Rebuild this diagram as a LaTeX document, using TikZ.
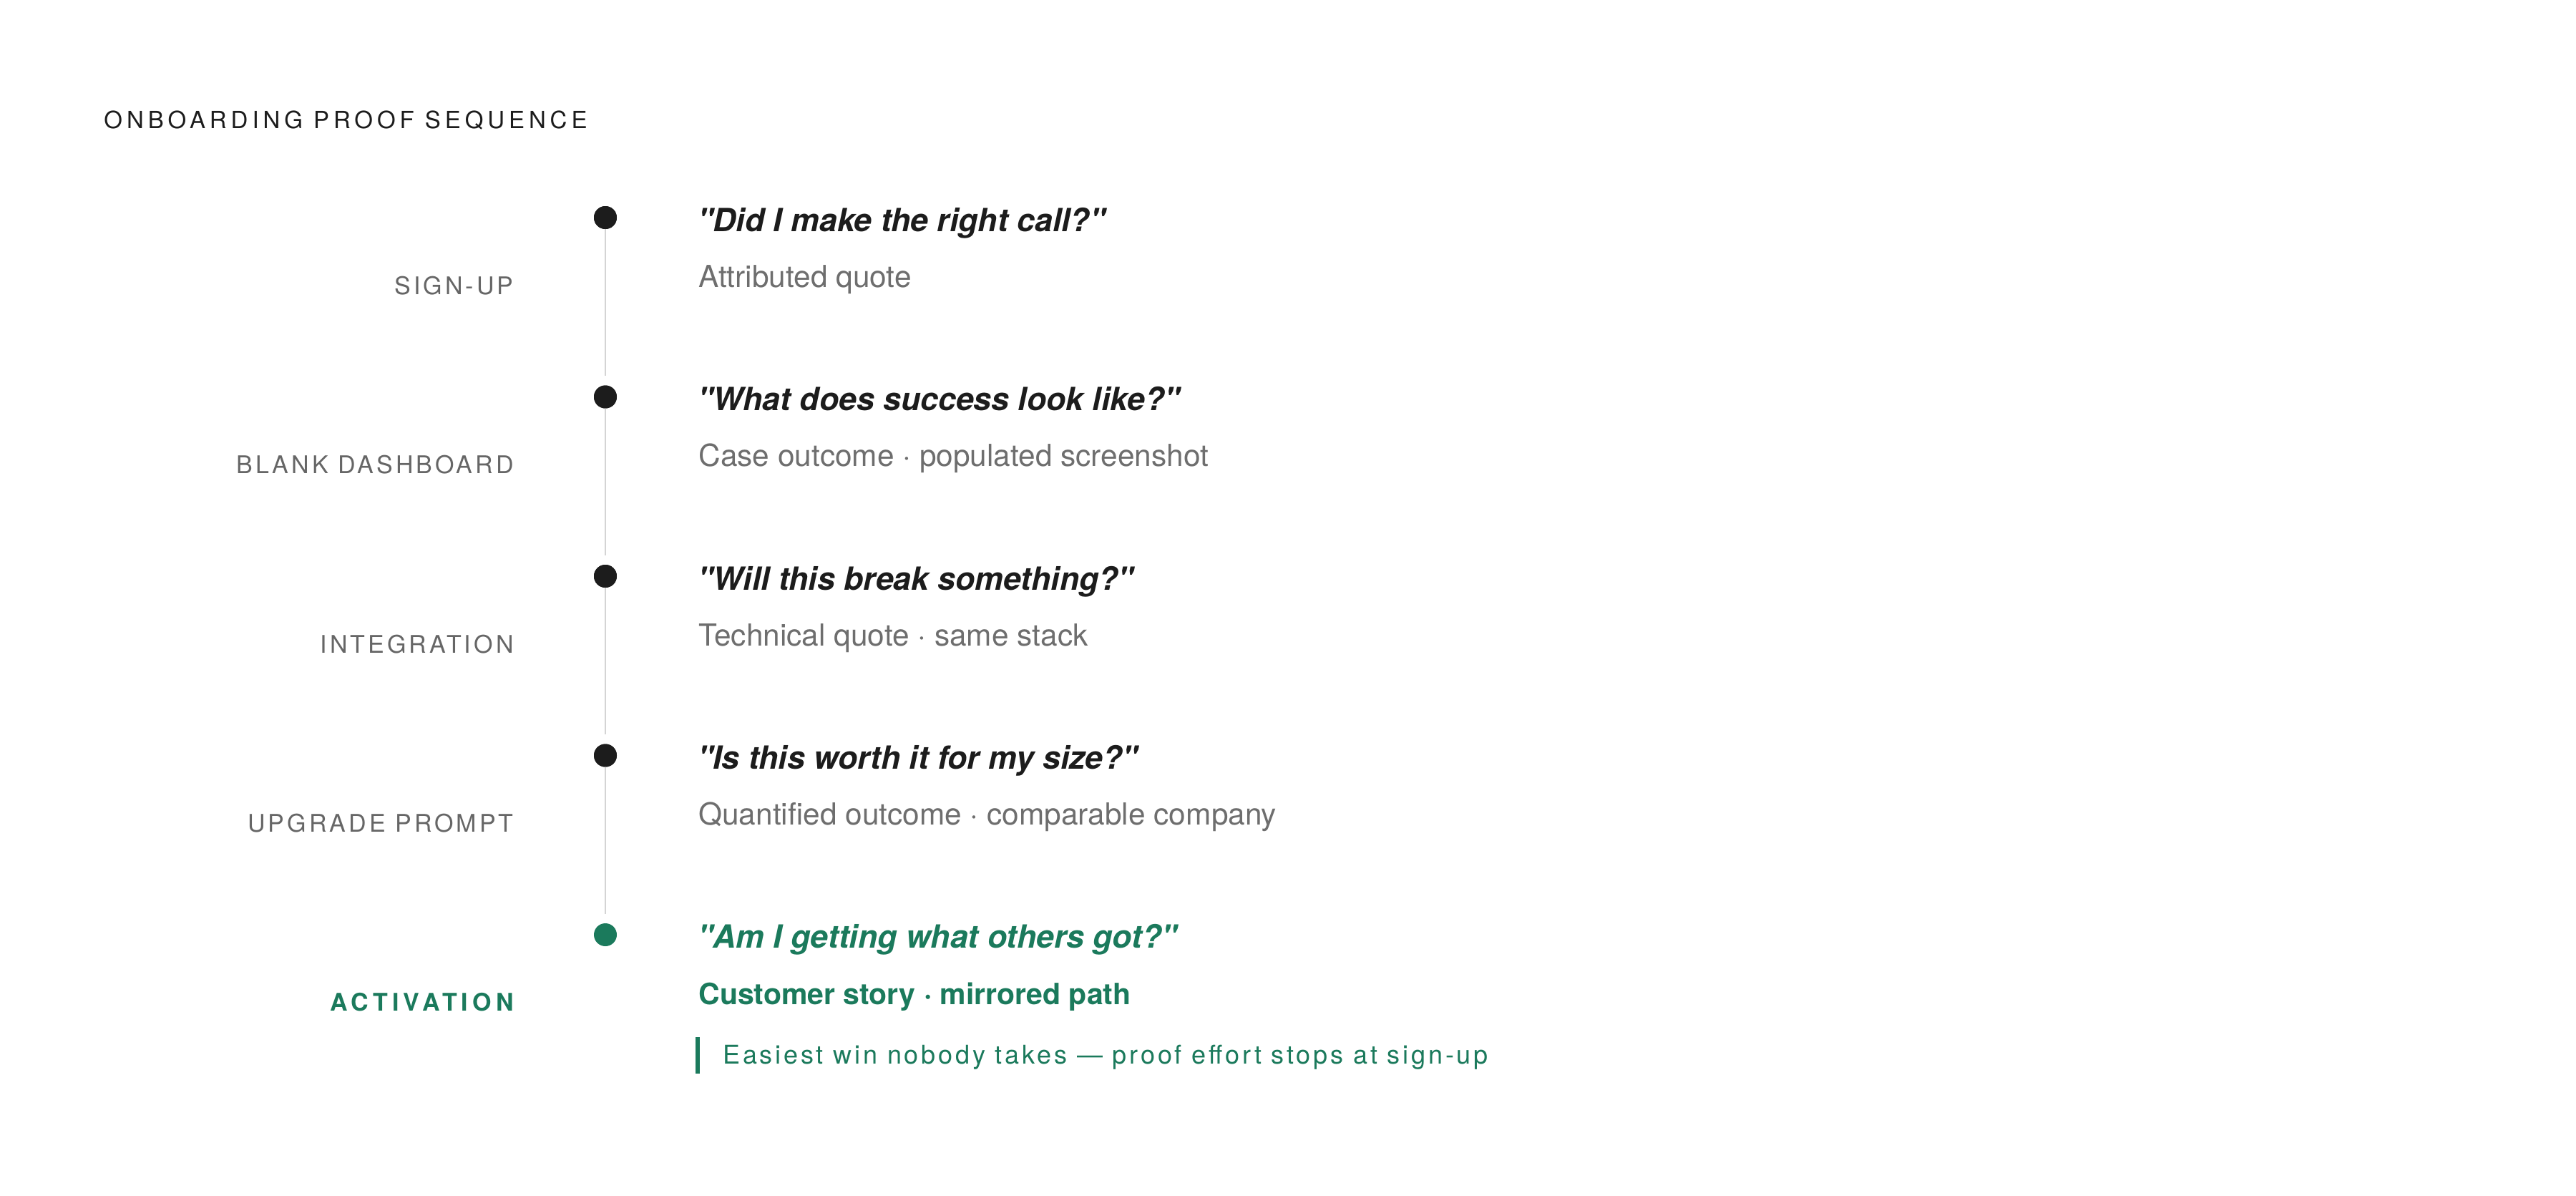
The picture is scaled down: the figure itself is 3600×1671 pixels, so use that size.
\documentclass[tikz,border=0pt]{standalone}
\usepackage{fontspec}
\setmainfont{TeX Gyre Heros}
\newfontfamily\quotefont{TeX Gyre Heros}
\newfontfamily\titlefont[LetterSpace=18]{TeX Gyre Heros}
\newfontfamily\stagefont[LetterSpace=12]{TeX Gyre Heros}
\newfontfamily\stageboldfont[LetterSpace=18]{TeX Gyre Heros}
\newfontfamily\notefont[LetterSpace=10.5]{TeX Gyre Heros}
\definecolor{ink}{HTML}{1C1C1C}
\definecolor{subgray}{HTML}{6E6E6E}
\definecolor{stagegray}{HTML}{666666}
\definecolor{railgray}{HTML}{D4D4D4}
\definecolor{accent}{HTML}{1B7A5C}
\tikzset{
  titletext/.style={anchor=base west, inner sep=0pt, font=\titlefont\fontsize{16.5}{20}\selectfont, text=ink},
  stagetext/.style={anchor=base east, inner sep=0pt, font=\stagefont\fontsize{17}{20}\selectfont, text=stagegray},
  quotetext/.style={anchor=base west, inner sep=0pt, font=\quotefont\bfseries\itshape\fontsize{22.3}{26}\selectfont, text=ink},
  prooftext/.style={anchor=base west, inner sep=0pt, font=\fontsize{21.2}{26}\selectfont, text=subgray},
  notetext/.style={anchor=base west, inner sep=0pt, font=\notefont\fontsize{18}{22}\selectfont, text=accent},
  dotnode/.style={circle, fill=ink, minimum size=16pt, inner sep=0pt},
  rail/.style={draw=railgray, line width=1pt, shorten >=6.5pt}
}
\begin{document}
\begin{tikzpicture}[x=0.5pt,y=-0.5pt]
\useasboundingbox (0,0) rectangle (3600,1671);
\fill[white] (0,0) rectangle (3600,1671);

\node[titletext] (title) at (145,179) {ONBOARDING PROOF SEQUENCE};

% dots
\node[dotnode] (d1) at (846,304) {};
\node[dotnode] (d2) at (846,554.5) {};
\node[dotnode] (d3) at (846,805) {};
\node[dotnode] (d4) at (846,1055.5) {};
\node[dotnode, fill=accent] (d5) at (846,1306) {};

% rails
\draw[rail] (d1.center) -- (d2.north);
\draw[rail] (d2.center) -- (d3.north);
\draw[rail] (d3.center) -- (d4.north);
\draw[rail] (d4.center) -- (d5.north);
\node[dotnode] at (d1) {};
\node[dotnode] at (d2) {};
\node[dotnode] at (d3) {};
\node[dotnode] at (d4) {};

% stage labels
\node[stagetext] (s1) at (718,411) {SIGN-UP};
\node[stagetext] (s2) at (718,661.5) {BLANK DASHBOARD};
\node[stagetext] (s3) at (718,912) {INTEGRATION};
\node[stagetext] (s4) at (718,1162.5) {UPGRADE PROMPT};
\node[stagetext, text=accent, font=\stageboldfont\bfseries\fontsize{17}{20}\selectfont] (s5) at (718,1412) {ACTIVATION};

% quotes
\node[quotetext] (q1) at (975,323) {"Did I make the right call?"};
\node[quotetext] (q2) at (975,573.5) {"What does success look like?"};
\node[quotetext] (q3) at (975,824) {"Will this break something?"};
\node[quotetext] (q4) at (975,1074.5) {"Is this worth it for my size?"};
\node[quotetext, text=accent] (q5) at (975,1324) {"Am I getting what others got?"};

% proof types
\node[prooftext] (p1) at (976,401) {Attributed quote};
\node[prooftext] (p2) at (976,651.5) {Case outcome · populated screenshot};
\node[prooftext] (p3) at (976,902) {Technical quote · same stack};
\node[prooftext] (p4) at (976,1152.5) {Quantified outcome · comparable company};
\node[prooftext, text=accent, font=\bfseries\fontsize{20.5}{25}\selectfont] (p5) at (976,1403) {Customer story · mirrored path};

% note
\fill[accent] (972,1449) rectangle (978,1500);
\node[notetext] (note) at (1010,1486) {Easiest win nobody takes — proof effort stops at sign-up};
\end{tikzpicture}
\end{document}
